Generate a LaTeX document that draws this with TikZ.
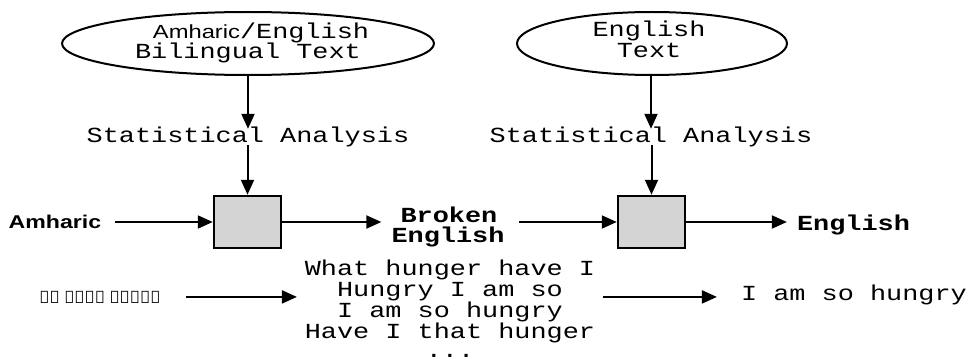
\documentclass[tikz,border=0pt]{standalone}
\usepackage{fontspec}
\usetikzlibrary{arrows.meta,shapes.geometric}
% Typewriter and sans faces, widened to the drawing's proportions
\newfontfamily\monof[FakeStretch=1.25]{Liberation Mono}
\newfontfamily\sansf[FakeStretch=1.25]{Liberation Sans}
\newfontfamily\ethf[Script=Ethiopic]{Noto Sans}
\definecolor{boxgray}{HTML}{D4D4D4}
\begin{document}
\begin{tikzpicture}[x=1pt,y=-1pt,
  arr/.style={line width=2pt,-{Triangle[length=15pt,width=13pt]}},
  mono/.style={font=\monof\fontsize{21.5}{21}\selectfont},
  monobold/.style={font=\monof\bfseries\fontsize{21.5}{21}\selectfont},
  corpus/.style={draw,ellipse,line width=2pt,inner sep=0pt},
  procbox/.style={draw,line width=2.5pt,fill=boxgray,minimum width=67pt,minimum height=52pt,inner sep=0pt},
  txt/.style={anchor=base,inner sep=0pt},
  lab/.style={mono,anchor=base,inner sep=0pt,text height=13pt,text depth=3pt}]
\useasboundingbox (0,0) rectangle (968,361);

% corpora
\node[corpus,minimum width=372pt,minimum height=63pt] (src1) at (248,43.5) {};
\node[txt,mono] (src1a) at (261,38) {{\sansf\fontsize{19}{21}\selectfont Amharic}/English};
\node[txt,mono] (src1b) at (248,59) {Bilingual Text};

\node[corpus,minimum width=270pt,minimum height=63pt] (src2) at (652,43.5) {};
\node[txt,mono] (src2a) at (649,37) {English};
\node[txt,mono] (src2b) at (649,58) {Text};

% analysis labels
\node[lab] (lab1) at (248,142) {Statistical Analysis};
\node[lab] (lab2) at (651,142) {Statistical Analysis};

% translation steps
\node[procbox] (p1) at (247.5,222) {};
\node[procbox] (p2) at (651.5,222) {};

\node[txt,font=\sansf\bfseries\fontsize{18.5}{21}\selectfont] (amh) at (55,228) {Amharic};
\node[txt,monobold] (be1) at (449,222) {Broken};
\node[txt,monobold] (be2) at (448,242) {English};
\node[txt,monobold] (eng) at (853.5,230) {English};

% example sentences
\node[txt,font=\ethf\fontsize{17}{21}\selectfont] (eth) at (100,303) {እኔ እንዴት እርበኛል};
\node[txt,mono] (s1) at (450,275) {What hunger have I};
\node[txt,mono] (s2) at (450,296) {Hungry I am so};
\node[txt,mono] (s3) at (450,317) {I am so hungry};
\node[txt,mono] (s4) at (450,338) {Have I that hunger};
\node[txt,mono] (s5) at (450,357) {...};
\node[txt,mono] (ans) at (854,300) {I am so hungry};

% connectors
\draw[arr] (src1.south) -- (src1.south |- lab1.north);
\draw[arr] (lab1.south -| p1.north) -- (p1.north);
\draw[arr] (src2.south -| lab2.north) -- (lab2.north);
\draw[arr] (lab2.south -| p2.north) -- (p2.north);

\draw[arr] ([xshift=14pt]amh.east |- p1.west) -- (p1.west);
\draw[arr] (p1.east) -- ([xshift=-10pt]be2.west |- p1.east);
\draw[arr] ([xshift=14pt]be2.east |- p2.west) -- (p2.west);
\draw[arr] (p2.east) -- ([xshift=-10pt]eng.west |- p2.east);

\draw[arr] ([xshift=25pt]eth.east) -- ([xshift=-40pt]s2.west |- eth.east);
\draw[arr] ([xshift=40pt]s2.east |- eth.east) -- ([xshift=-24pt]ans.west |- eth.east);
\end{tikzpicture}
\end{document}
